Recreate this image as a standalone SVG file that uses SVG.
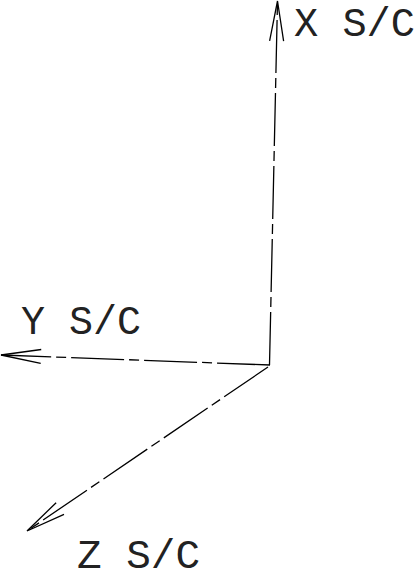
<svg xmlns="http://www.w3.org/2000/svg" width="416" height="580" viewBox="0 0 416 580">
<style>
.axis{stroke:#000;stroke-width:1.3;fill:none;stroke-dasharray:53 5 10 5}
.lbl{font-family:"Liberation Mono","DejaVu Sans Mono",monospace;font-size:40px;fill:#222}
</style>
<defs>
<marker id="arr" markerUnits="userSpaceOnUse" viewBox="-42 -9 44 18" markerWidth="44" markerHeight="18" refX="0" refY="0" orient="auto">
<path d="M-40,-7 L0,0 L-40,7" fill="none" stroke="#000" stroke-width="1.3"/>
</marker>
</defs>
<rect width="416" height="580" fill="#fff"/>
<g id="connectors">
<line class="axis" x1="269.5" y1="365" x2="277.5" y2="1" marker-end="url(#arr)"/>
<line class="axis" x1="270" y1="365" x2="1" y2="355" marker-end="url(#arr)"/>
<line class="axis" x1="268" y1="367" x2="27" y2="531" marker-end="url(#arr)"/>
</g>
<g id="x-label"><text class="lbl" x="294" y="36" textLength="121" lengthAdjust="spacingAndGlyphs">X S/C</text></g>
<g id="y-label"><text class="lbl" x="21" y="334" textLength="120" lengthAdjust="spacingAndGlyphs">Y S/C</text></g>
<g id="z-label"><text class="lbl" x="77" y="568" textLength="123" lengthAdjust="spacingAndGlyphs">Z S/C</text></g>
</svg>
